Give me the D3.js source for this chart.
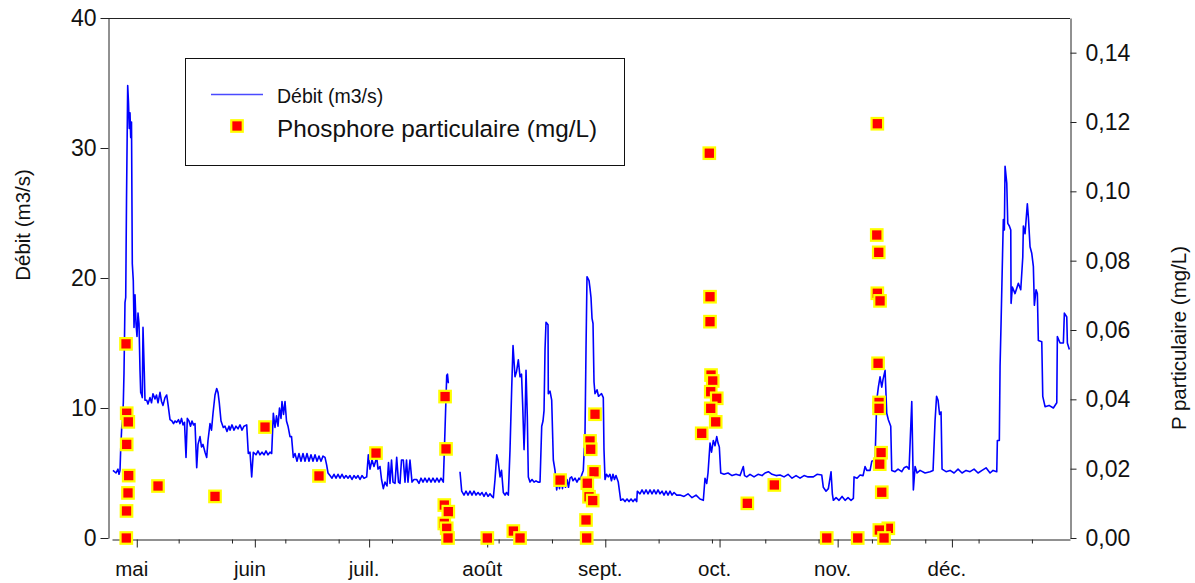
<!DOCTYPE html>
<html><head><meta charset="utf-8">
<script src="https://cdn.jsdelivr.net/npm/d3@7"></script>
<style>
body{margin:0;background:#fff}
svg{font-family:"Liberation Sans",Arial,Helvetica,sans-serif;display:block}
</style>
</head><body>
<svg id="c" width="1195" height="583"></svg>
<script>
// Jours comptés depuis le 1er mai (fractionnaires)
const debitJours = [
-6.25,-5.45,-4.93,-4.66,-4.40,-4.22,-3.95,-3.74,-3.53,-3.35,
-3.09,-2.90,-2.69,-2.38,-2.17,-1.96,-1.77,-1.59,-1.38,-1.17,
-0.91,-0.72,-0.46,-0.20,0.06,0.33,0.59,0.85,1.03,1.30,
1.45,1.64,1.98,2.16,2.61,2.95,3.48,3.87,4.26,4.79,
5.18,5.58,6.10,6.50,6.89,7.41,7.86,8.20,8.73,9.25,
9.65,10.04,10.49,10.96,11.35,11.75,12.14,12.53,12.93,13.27,
13.71,14.11,14.50,14.90,15.29,15.74,16.08,16.60,17.00,17.39,
17.92,18.36,18.70,19.23,19.62,20.02,20.54,20.99,21.33,21.67,
22.12,22.72,23.17,23.69,24.22,24.48,25.00,25.53,26.05,26.58,
27.10,27.63,28.15,28.86,29.28,29.73,30.17,30.60,31.30,31.83,
32.35,32.88,33.40,33.93,34.45,34.98,35.42,35.85,36.29,36.69,
37.08,37.47,37.87,38.13,38.53,38.92,39.31,39.71,40.23,40.63,
41.10,41.54,42.07,42.59,43.12,43.64,44.17,44.69,45.22,45.74,
46.27,46.80,47.32,47.84,48.37,48.89,49.42,49.86,50.21,50.73,
51.26,51.78,52.31,52.83,53.36,53.88,54.41,54.93,55.46,55.98,
56.51,57.03,57.56,58.08,58.61,59.13,59.66,60.36,60.79,61.23,
61.76,62.28,62.99,63.34,63.86,64.26,64.73,65.17,65.70,66.09,
66.48,66.88,67.27,67.80,68.24,68.71,69.11,69.50,69.98,70.42,
70.82,71.21,71.73,72.26,72.79,73.49,74.09,74.62,75.15,75.67,
76.20,76.72,77.25,77.77,78.30,78.82,79.35,79.87,80.48,80.92,
81.37,81.58,81.80,83.30,84.86,85.31,85.91,86.44,86.96,87.49,
88.01,88.54,89.06,89.59,90.11,90.64,91.16,91.69,92.21,92.74,
93.26,93.61,94.05,94.50,94.84,95.37,95.76,96.23,96.68,97.07,
97.55,97.99,98.43,98.78,99.30,99.70,100.17,100.62,101.01,101.33,
101.67,101.93,102.19,102.53,102.80,103.24,103.76,104.29,104.81,105.34,
105.87,106.31,106.65,106.92,107.18,107.44,107.97,108.04,108.49,108.93,
109.36,109.80,110.24,110.58,110.98,111.37,111.76,112.16,112.55,112.95,
113.34,113.73,114.18,114.52,115.05,115.57,116.10,116.36,116.76,117.23,
117.68,117.94,118.20,118.73,118.99,119.25,119.52,119.78,120.04,120.30,
120.83,121.22,121.61,122.01,122.48,122.66,122.93,123.32,123.78,124.23,
124.62,125.02,125.41,125.81,126.41,127.05,127.65,128.18,128.70,129.23,
129.76,130.28,130.81,131.25,131.41,132.12,132.65,133.17,133.70,134.22,
134.75,135.27,135.80,136.32,136.85,137.37,137.90,138.42,138.95,139.47,
140.00,140.52,141.05,141.75,142.62,143.67,144.72,145.77,146.82,147.87,
148.74,149.18,149.63,149.97,150.50,150.89,151.36,151.81,152.26,152.60,
152.94,153.31,154.18,155.23,156.28,157.33,158.38,159.24,159.56,160.14,
161.00,162.05,163.10,164.15,164.94,165.81,166.78,167.83,168.88,169.93,
170.98,172.03,173.08,174.13,175.18,176.23,177.62,178.59,179.82,180.24,
180.95,181.56,182.27,182.61,182.88,183.59,184.37,185.16,185.95,186.73,
187.52,188.13,188.31,189.10,189.89,190.68,191.20,191.64,192.51,192.96,
193.82,194.27,194.69,195.13,195.58,195.92,196.45,196.89,197.31,197.94,
198.20,199.07,199.86,200.83,201.44,202.15,202.75,203.46,203.88,204.33,
204.85,205.64,206.95,208.26,209.05,209.57,209.97,210.36,210.76,211.15,
211.41,212.46,213.51,214.56,215.61,216.66,217.71,218.76,219.81,220.86,
221.91,222.96,224.01,224.80,225.77,225.93,226.45,226.64,226.90,227.24,
227.50,227.77,227.95,228.40,228.66,229.08,229.45,229.53,229.87,230.57,
231.44,232.07,232.60,232.76,233.20,233.80,234.07,234.51,234.96,235.38,
235.64,236.09,236.43,236.69,237.59,237.85,238.45,239.50,240.63,241.53,
241.68,242.39,243.26,243.52,244.15,244.31,244.83
];
// Débit (m3/s) ; null = lacune de mesure
const debitM3s = [
5.2,5.0,5.3,4.9,5.2,6.8,8.5,9.0,10.4,12.7,
18.1,18.5,26,34.8,33.5,31.5,32.7,30.8,32,21.1,
19.8,16.2,18.7,16.5,15.5,17.3,16.5,12.9,11.2,11.0,
10.8,16.2,12.7,10.6,10.6,10.3,10.8,10.4,11.1,10.7,
11.0,10.4,11.2,10.5,10.2,10.8,11.0,10.3,9.1,9.0,
8.8,9.0,8.9,9.1,8.8,9.2,8.7,8.9,6.2,9.2,
9.0,8.6,9.0,8.7,8.8,5.4,7.2,7.8,7.0,7.2,
6.6,6.2,7.5,8.8,8.3,9.6,11.0,11.5,11.2,10.4,
9.0,8.5,8.6,8.2,8.6,8.3,8.7,8.3,8.6,8.4,
8.7,8.3,8.6,8.7,6.5,6.6,4.7,6.6,6.4,6.7,
6.4,6.6,6.4,6.7,6.4,6.6,6.5,9.6,8.5,9.4,
8.6,10.0,9.2,10.5,9.5,10.5,9.0,8.6,7.8,7.8,
6.2,6.5,5.9,6.5,5.9,6.5,5.9,6.5,5.9,6.4,
5.9,6.4,5.9,6.3,5.9,6.3,6.2,5.6,5.0,4.8,
4.6,4.9,4.6,4.9,4.6,4.9,4.6,4.8,4.6,4.8,
4.5,4.8,4.6,4.8,4.5,4.8,4.6,4.7,6.4,5.3,
6.0,5.5,6.2,5.3,5.5,4.5,3.8,4.3,4.0,5.8,
4.2,6.0,4.3,4.2,6.2,4.3,4.2,6.0,6.0,4.3,
6.0,4.3,6.0,4.3,4.5,4.5,4.2,4.6,4.3,4.6,
4.3,4.6,4.3,4.6,4.3,4.6,4.3,4.6,4.3,8.3,
12.5,12.6,11.9,null,5.1,3.6,3.3,3.6,3.3,3.6,
3.3,3.6,3.3,3.5,3.3,3.5,3.2,3.5,3.2,3.4,
3.2,3.1,4.5,6.4,6.0,4.7,5.2,3.5,3.3,3.5,
3.3,6.8,11.5,14.8,12.4,12.8,13.7,12.4,12.6,10.1,
6.8,9.0,12.9,9.3,4.7,4.3,4.5,4.3,4.4,4.3,
4.3,8.6,9.0,9.8,14.5,16.6,16.4,11.1,11.3,10.6,
6.0,5.2,3.7,4.4,3.8,4.6,3.8,4.6,3.9,4.5,
3.9,4.6,4.7,4.4,4.6,4.3,4.6,4.5,4.8,5.2,
8.1,14.5,20.1,19.8,19.2,18.5,16.9,16.5,12.0,11.1,
11.4,10.9,11.0,11.1,10.8,6.8,4.5,4.9,4.7,4.9,
4.4,4.9,4.5,4.8,4.3,2.9,3.0,2.8,3.0,2.8,
3.0,2.8,3.0,2.8,3.6,3.4,3.7,3.4,3.7,3.4,
3.7,3.4,3.7,3.4,3.7,3.4,3.6,3.3,3.6,3.3,
3.6,3.3,3.5,3.3,3.3,3.2,3.4,3.1,3.3,3.0,
2.9,4.6,4.2,5.0,7.3,6.6,7.5,7.1,7.8,7.3,
7.0,5.0,4.9,5.0,4.8,4.9,4.8,5.5,4.8,4.7,
4.9,4.7,4.9,4.8,5.0,5.1,4.9,4.8,4.85,4.7,
4.9,4.6,4.8,4.6,4.8,4.7,4.7,4.9,4.85,3.9,
3.6,3.8,5.1,3.4,2.9,3.1,2.9,3.2,2.9,3.1,
2.9,3.05,4.7,4.6,4.85,4.8,5.5,5.2,5.2,5.9,
6.0,10.6,11.6,12.4,11.6,12.2,12.9,9.6,9.1,8.6,
5.2,5.1,5.3,5.1,5.4,5.5,5.3,10.5,3.7,5.5,
5.0,5.2,5.0,5.1,5.2,9.0,10.9,10.6,9.5,9.7,
5.3,5.1,5.2,5.0,5.3,5.0,5.2,5.1,5.3,5.0,
5.2,5.4,5.0,5.2,5.1,7.5,7.5,13.2,16.5,21.1,
24.5,23.7,28.6,27.3,24.2,24.0,23.7,18.05,19.3,18.8,
19.6,19.1,21.6,24.0,23.4,25.7,24.7,22.4,21.9,20.9,
17.9,19.1,18.8,15.2,15.1,10.9,10.1,10.2,10.0,10.4,
15.5,15.0,15.0,17.3,17.0,15.0,14.5
];
// Phosphore particulaire : jour depuis le 1er mai et concentration (mg/L)
const pJours = [
-2.82,-2.64,-2.22,-2.64,-2.12,-2.30,-2.69,-2.75,
5.58,20.54,33.67,47.84,62.81,
80.94,81.19,80.74,81.79,80.74,81.37,81.71,
92.03,98.86,100.62,111.13,
120.30,118.99,119.17,120.04,118.28,118.73,119.70,117.94,118.12,
148.31,150.31,150.49,150.49,150.76,151.21,150.68,152.26,150.68,151.99,
160.29,167.38,181.14,189.27,
194.42,194.27,194.79,194.42,195.13,194.61,194.87,194.87,195.40,195.05,195.58,197.31,194.95,196.18
];
const pMgL = [
0.056,0.036,0.0335,0.027,0.018,0.013,0.0078,0.0,
0.015,0.012,0.032,0.0179,0.0245,
0.0408,0.0257,0.0095,0.0076,0.0042,0.0028,0.0,
0.0,0.002,0.0,0.0167,
0.0357,0.028,0.0256,0.0191,0.0158,0.0119,0.0108,0.0052,0.0,
0.0302,0.111,0.0696,0.0624,0.047,0.0453,0.0422,0.0403,0.0374,0.0335,
0.010,0.0153,0.0,0.0,
0.1195,0.0874,0.0824,0.0706,0.0684,0.0504,0.0391,0.0374,0.0246,0.0213,0.0132,0.0028,0.0023,0.0
];
const moisDebut = [0,31,61,92,123,153,184,214];
const moisLabels = ["mai","juin","juil.","août","sept.","oct.","nov.","déc."];
const ticksMineurs = [-3,11,25,39,53,67,81,95,109,137,151,165,179,193,207,221,235];
const ticksDebit = [0,10,20,30,40];
const ticksP = [0,0.02,0.04,0.06,0.08,0.10,0.12,0.14];
const domaineJours = [-6.5,245];
const domaineDebit = [0,40];
const domaineP = [0,0.15];

const svg = d3.select("#c");
const L = 108, R = 1070, T = 18, B = 538;
const x = d3.scaleLinear().domain(domaineJours).range([112, R]);
const y = d3.scaleLinear().domain(domaineDebit).range([B, T]);
const y2 = d3.scaleLinear().domain(domaineP).range([B, T]);
const fmtP = v => d3.format(".2f")(v).replace(".", ",");

// cadre haut
svg.append("line").attr("x1", L).attr("x2", R).attr("y1", T + 0.5).attr("y2", T + 0.5)
  .attr("stroke", "#222").attr("stroke-width", 1);

// axe gauche
const gL = svg.append("g").attr("transform", `translate(${L + 0.5},0)`)
  .call(d3.axisLeft(y).tickValues(ticksDebit).tickSize(8).tickSizeOuter(0).tickPadding(4));
// axe droit
const gR = svg.append("g").attr("transform", `translate(${R + 0.5},0)`)
  .call(d3.axisRight(y2).tickValues(ticksP).tickFormat(fmtP).tickSize(6).tickSizeOuter(0).tickPadding(9));
// axe bas : mois
const gB = svg.append("g").attr("transform", `translate(0,${B + 1.5})`)
  .call(d3.axisBottom(x).tickValues(moisDebut).tickFormat((d, i) => moisLabels[i])
    .tickSize(8).tickSizeOuter(0).tickPadding(14));
const gB2 = svg.append("g").attr("transform", `translate(0,${B + 1.5})`)
  .call(d3.axisBottom(x).tickValues(ticksMineurs).tickFormat("").tickSize(4).tickSizeOuter(0));
gB2.select(".domain").remove();
gB.selectAll("text").attr("dx", "-5.5");

[gL, gR, gB, gB2].forEach(g => {
  g.selectAll("path.domain").attr("stroke", "#222");
  g.selectAll(".tick line").attr("stroke", "#222");
  g.selectAll("text").attr("font-size", 20.5).attr("fill", "#111")
    .attr("font-family", '"Liberation Sans",Arial,sans-serif');
});
gL.selectAll("text").attr("font-size", 23);
gR.selectAll("text").attr("font-size", 23);

// titres d'axes
svg.append("text").attr("transform", "translate(30,225) rotate(-90)")
  .attr("text-anchor", "middle").attr("font-size", 20.5).attr("fill", "#111").text("Débit (m3/s)");
svg.append("text").attr("transform", "translate(1186,338) rotate(-90)")
  .attr("text-anchor", "middle").attr("font-size", 20.5).attr("fill", "#111").text("P particulaire (mg/L)");

// série débit
const debit = debitJours.map((d, i) => ({ j: d, v: debitM3s[i] }));
const ligne = d3.line().defined(d => d.v !== null).x(d => x(d.j)).y(d => y(d.v));
svg.append("path").datum(debit).attr("d", ligne)
  .attr("fill", "none").attr("stroke", "#0000ff").attr("stroke-width", 1.6)
  .attr("stroke-linejoin", "round");

// série phosphore
const pts = pJours.map((d, i) => ({ j: d, v: pMgL[i] }));
const S = 11.5;
svg.append("g").selectAll("rect").data(pts).join("rect")
  .attr("x", d => x(d.j) - S / 2).attr("y", d => y2(d.v) - S / 2)
  .attr("width", S).attr("height", S)
  .attr("fill", "#ff0000").attr("stroke", "#ffff00").attr("stroke-width", 2.2);

// légende
const lg = svg.append("g");
lg.append("rect").attr("x", 185.5).attr("y", 58.5).attr("width", 439).attr("height", 107)
  .attr("fill", "#fff").attr("stroke", "#111").attr("stroke-width", 1);
lg.append("line").attr("x1", 211).attr("x2", 263).attr("y1", 94.5).attr("y2", 94.5)
  .attr("stroke", "#4a4aff").attr("stroke-width", 1.5);
lg.append("text").attr("x", 277).attr("y", 103).attr("font-size", 19.5).attr("fill", "#111").text("Débit (m3/s)");
lg.append("rect").attr("x", 237 - S / 2).attr("y", 126 - S / 2).attr("width", S).attr("height", S)
  .attr("fill", "#ff0000").attr("stroke", "#ffff00").attr("stroke-width", 2.2);
lg.append("text").attr("x", 277).attr("y", 137).attr("font-size", 24.3).attr("fill", "#111").text("Phosphore particulaire (mg/L)");
</script>
</body></html>
